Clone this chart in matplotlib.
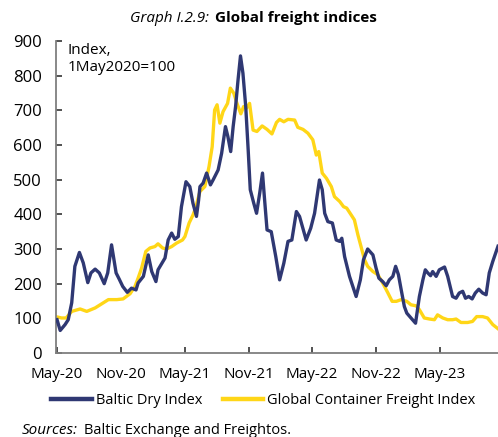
import matplotlib
matplotlib.use("Agg")
import matplotlib.pyplot as plt
import pandas as pd

# ---- data (days since 1 May 2020, index value) ----
bdi_days = [0, 9, 23, 32, 42, 51, 64, 75, 88, 97, 109, 121, 135, 145, 156, 169, 178, 188,
            201, 213, 226, 232, 247, 261, 271, 283, 289, 299, 309, 318, 328, 337, 347, 356,
            369, 380, 389, 399, 405, 409, 418, 428, 439, 447, 461, 471, 482, 489, 497, 504,
            511, 518, 525, 532, 540, 547, 553, 563, 571, 580, 588, 594, 601, 613, 626, 637,
            649, 661, 672, 685, 694, 713, 726, 737, 751, 759, 766, 775, 788, 799, 809, 815,
            823, 837, 856, 868, 877, 889, 904, 913, 921, 932, 942, 951, 961, 969, 977, 985,
            994, 1001, 1013, 1026, 1037, 1047, 1054, 1061, 1069, 1075, 1085, 1094, 1109,
            1118, 1132, 1142, 1151, 1161, 1169, 1178, 1188, 1197, 1207, 1218, 1228, 1237,
            1247, 1262]
bdi_values = [96, 65, 82, 96, 145, 250, 290, 260, 203, 231, 242, 231, 200, 231, 312, 231, 213,
              192, 175, 187, 182, 202, 221, 283, 235, 206, 240, 257, 274, 326, 346, 328, 336,
              422, 494, 480, 432, 394, 440, 480, 490, 519, 485, 500, 528, 576, 653, 624, 581,
              653, 711, 788, 857, 807, 711, 586, 471, 432, 403, 461, 519, 442, 355, 350, 278,
              211, 259, 322, 326, 408, 394, 326, 360, 403, 499, 471, 403, 379, 375, 326, 322,
              331, 278, 221, 163, 211, 269, 300, 283, 245, 216, 206, 194, 211, 221, 250, 226,
              182, 134, 115, 101, 86, 163, 211, 240, 231, 223, 235, 221, 240, 248, 221, 163,
              158, 173, 178, 158, 163, 156, 173, 184, 173, 168, 231, 264, 308]

gcfi_days = [0, 13, 26, 42, 66, 85, 109, 128, 147, 171, 189, 209, 223, 232, 242, 254, 266,
             280, 289, 302, 313, 328, 342, 359, 366, 378, 389, 397, 409, 423, 435, 444, 451,
             458, 466, 475, 488, 496, 506, 515, 526, 534, 542, 551, 561, 572, 587, 601, 615,
             628, 637, 649, 661, 680, 689, 704, 718, 732, 742, 749, 759, 771, 785, 794, 809,
             820, 829, 842, 851, 861, 870, 880, 889, 904, 918, 932, 947, 959, 971, 985, 1001,
             1013, 1028, 1037, 1051, 1066, 1080, 1089, 1104, 1118, 1132, 1142, 1156, 1175,
             1189, 1201, 1218, 1232, 1247, 1262]
gcfi_values = [104, 101, 101, 120, 127, 120, 130, 142, 154, 154, 156, 171, 192, 216, 245, 293,
               303, 307, 315, 303, 300, 307, 317, 326, 336, 375, 398, 420, 466, 480, 538, 595,
               701, 716, 663, 696, 720, 764, 749, 720, 690, 711, 706, 720, 643, 639, 655, 645,
               632, 665, 674, 667, 674, 672, 651, 645, 634, 615, 571, 581, 519, 504, 480, 451,
               437, 422, 418, 398, 384, 341, 307, 269, 250, 235, 226, 202, 173, 149, 149, 154,
               149, 139, 136, 125, 101, 98, 96, 110, 101, 96, 96, 98, 88, 88, 91, 105, 105,
               101, 82, 70]

tick_labels = ["May-20", "Nov-20", "May-21", "Nov-21", "May-22", "Nov-22", "May-23"]
tick_dates = ["2020-05-01", "2020-11-01", "2021-05-01", "2021-11-01", "2022-05-01",
              "2022-11-01", "2023-05-01"]
series_names = ["Baltic Dry Index", "Global Container Freight Index"]

start = pd.Timestamp("2020-05-01")
bdi_x = start + pd.to_timedelta(bdi_days, unit="D")
gcfi_x = start + pd.to_timedelta(gcfi_days, unit="D")

plt.rcParams["font.family"] = ["Open Sans", "DejaVu Sans"]
NAVY = "#2F3873"
YELLOW = "#FFD617"
AXC = "#7f7f7f"

fig = plt.figure(figsize=(4.98, 4.37), dpi=100)
ax = fig.add_axes([56 / 498, 1 - 353 / 437, (498 - 56) / 498, (353 - 41) / 437])

ax.plot(bdi_x, bdi_values, color=NAVY, lw=2.4, label=series_names[0], zorder=3,
        solid_joinstyle="round")
ax.plot(gcfi_x, gcfi_values, color=YELLOW, lw=2.4, label=series_names[1], zorder=2,
        solid_joinstyle="round")

ax.set_ylim(0, 900)
ax.set_yticks(range(0, 901, 100))
ax.set_xlim(start - pd.Timedelta(days=3), start + pd.Timedelta(days=1262))
ax.set_xticks(pd.to_datetime(tick_dates))
ax.set_xticklabels(tick_labels)

for s in ["top", "right"]:
    ax.spines[s].set_visible(False)
for s in ["left", "bottom"]:
    ax.spines[s].set_color(AXC)
    ax.spines[s].set_linewidth(1.3)
ax.tick_params(axis="both", direction="in", length=4, width=1.2, color="#333333",
               labelcolor="black")
ax.tick_params(axis="x", pad=10, labelsize=11)
ax.tick_params(axis="y", pad=10, labelsize=12)

ax.text(0.027, 0.995, "Index,\n1May2020=100", transform=ax.transAxes, ha="left", va="top",
        fontsize=11, linespacing=1.25)

fig.text(213 / 498, 1 - 18 / 437, "Graph I.2.9: ", ha="right", va="center", fontsize=11,
         style="italic")
fig.text(215 / 498, 1 - 18 / 437, "Global freight indices", ha="left", va="center",
         fontsize=11, weight="bold")

leg = fig.legend(loc="center", bbox_to_anchor=(263.5 / 498, 1 - 401 / 437), ncol=2,
                 frameon=False, fontsize=10.5, handlelength=2.8, handletextpad=0.28,
                 columnspacing=1.37, borderpad=0, borderaxespad=0)
for line in leg.get_lines():
    line.set_linewidth(3.2)

fig.text(22 / 498, 1 - 430 / 437, "Sources:", ha="left", va="center", fontsize=11,
         style="italic")
fig.text(84 / 498, 1 - 430 / 437, "Baltic Exchange and Freightos.", ha="left", va="center",
         fontsize=10.5)

fig.savefig("out.png", dpi=100)
